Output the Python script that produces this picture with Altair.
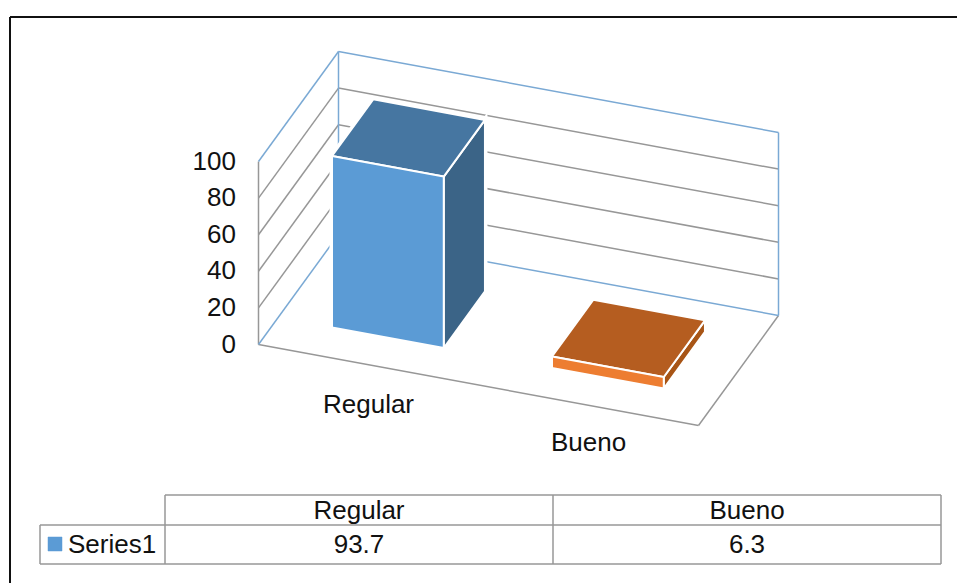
import altair as alt
import pandas as pd

categories = ["Regular", "Bueno"]
values = [93.7, 6.3]
ticks = [0, 20, 40, 60, 80, 100]
series_name = "Series1"

# Oblique projection: category position, depth (0 front, 1 back) and value to page pixels
ORIGIN = (258.5, 344.5)
CAT_STEP = (220.0, 40.5)
DEPTH = (80.0, -110.0)
UNIT = 183.0 / 100.0


def project(c, d, v):
    return (ORIGIN[0] + c * CAT_STEP[0] + d * DEPTH[0],
            ORIGIN[1] + c * CAT_STEP[1] + d * DEPTH[1] - v * UNIT)


X = alt.X("x:Q", scale=alt.Scale(domain=[0, 957], range=[0, 957]), axis=None)
Y = alt.Y("y:Q", scale=alt.Scale(domain=[0, 583], range=[0, 583]), axis=None)

GRAY = "#979797"
WALL_BLUE = "#7aa9d4"
FONT = "Liberation Sans"


def segments(rows, color, width):
    df = pd.DataFrame([{"x": a[0], "y": a[1], "x2": b[0], "y2": b[1]} for a, b in rows])
    return alt.Chart(df).mark_rule(color=color, strokeWidth=width).encode(
        x=X, y=Y, x2="x2:Q", y2="y2:Q")


def polygon(points, fill, stroke, width):
    closed = list(points) + [points[0]]
    df = pd.DataFrame({"x": [p[0] for p in closed], "y": [p[1] for p in closed],
                       "i": range(len(closed))})
    return alt.Chart(df).mark_line(fill=fill, stroke=stroke, strokeWidth=width,
                                   strokeJoin="miter", interpolate="linear").encode(
        x=X, y=Y, order="i:Q")


def labels(rows, align="center", size=26, baseline="middle"):
    df = pd.DataFrame(rows, columns=["x", "y", "t"])
    return alt.Chart(df).mark_text(font=FONT, fontSize=size, align=align, baseline=baseline,
                                   color="#111111").encode(x=X, y=Y, text="t:N")


n = len(categories)
layers = []

# Walls and floor
inner = [t for t in ticks if 0 < t < 100]
grid = []
for t in inner:
    grid.append((project(0, 0, t), project(0, 1, t)))
    grid.append((project(0, 1, t), project(n, 1, t)))
grid += [
    (project(0, 0, 0), project(0, 0, 100)),
    (project(0, 0, 0), project(n, 0, 0)),
    (project(n, 0, 0), project(n, 1, 0)),
]
layers.append(segments(grid, GRAY, 1.5))

walls = [
    (project(0, 0, 100), project(0, 1, 100)),
    (project(0, 1, 100), project(n, 1, 100)),
    (project(0, 1, 0), project(0, 1, 100)),
    (project(n, 1, 0), project(n, 1, 100)),
    (project(0, 0, 0), project(0, 1, 0)),
    (project(0, 1, 0), project(n, 1, 0)),
]
layers.append(segments(walls, WALL_BLUE, 1.5))

# Columns
shades = [("#5b9bd5", "#4676a1", "#3b6487"), ("#ed7d31", "#b55d20", "#a85516")]
for i, val in enumerate(values):
    c0, c1 = i + 0.245, i + 0.753
    d0, d1 = 0.245, 0.76
    front = [project(c0, d0, 0), project(c1, d0, 0), project(c1, d0, val), project(c0, d0, val)]
    top = [project(c0, d0, val), project(c1, d0, val), project(c1, d1, val), project(c0, d1, val)]
    side = [project(c1, d0, 0), project(c1, d1, 0), project(c1, d1, val), project(c1, d0, val)]
    front_c, top_c, side_c = shades[i]
    for face in (front, top, side):
        layers.append(polygon(face, "#ffffff", "#ffffff", 5))
    layers.append(polygon(side, side_c, "#ffffff", 2))
    layers.append(polygon(top, top_c, "#ffffff", 2))
    layers.append(polygon(front, front_c, "#ffffff", 2))

# Value axis and category labels
layers.append(labels([(236, project(0, 0, t)[1], str(t)) for t in ticks], align="right"))
label_drop = [40.5, 38.0]
layers.append(labels([(project(i + 0.5, 0, 0)[0], project(i + 0.5, 0, 0)[1] + label_drop[i], name)
                      for i, name in enumerate(categories)]))

# Data table under the plot
TX = [40, 165, 553, 941]
TY = [495, 525, 564]
table = [
    ((TX[1], TY[0]), (TX[3], TY[0])),
    ((TX[0], TY[1]), (TX[3], TY[1])),
    ((TX[0], TY[2]), (TX[3], TY[2])),
    ((TX[0], TY[1]), (TX[0], TY[2])),
    ((TX[1], TY[0]), (TX[1], TY[2])),
    ((TX[2], TY[0]), (TX[2], TY[2])),
    ((TX[3], TY[0]), (TX[3], TY[2])),
]
layers.append(segments(table, GRAY, 1.5))
layers.append(labels([((TX[i + 1] + TX[i + 2]) / 2, 510.5, name) for i, name in enumerate(categories)]))
layers.append(labels([((TX[i + 1] + TX[i + 2]) / 2, 544.5, str(v)) for i, v in enumerate(values)]))
layers.append(labels([(68, 544.5, series_name)], align="left"))
layers.append(polygon([(48, 537), (62, 537), (62, 551), (48, 551)], shades[0][0], shades[0][0], 0.5))

# Outer frame
layers.append(segments([((10, 17), (957, 17)), ((10, 17), (10, 583))], "#111111", 2))

chart = alt.layer(*layers).properties(
    width=957, height=583, padding=0, autosize=alt.AutoSizeParams(type="none"),
    background="white",
).configure_view(stroke=None)

chart.save("out.html", embed_options={"renderer": "svg", "actions": False})
